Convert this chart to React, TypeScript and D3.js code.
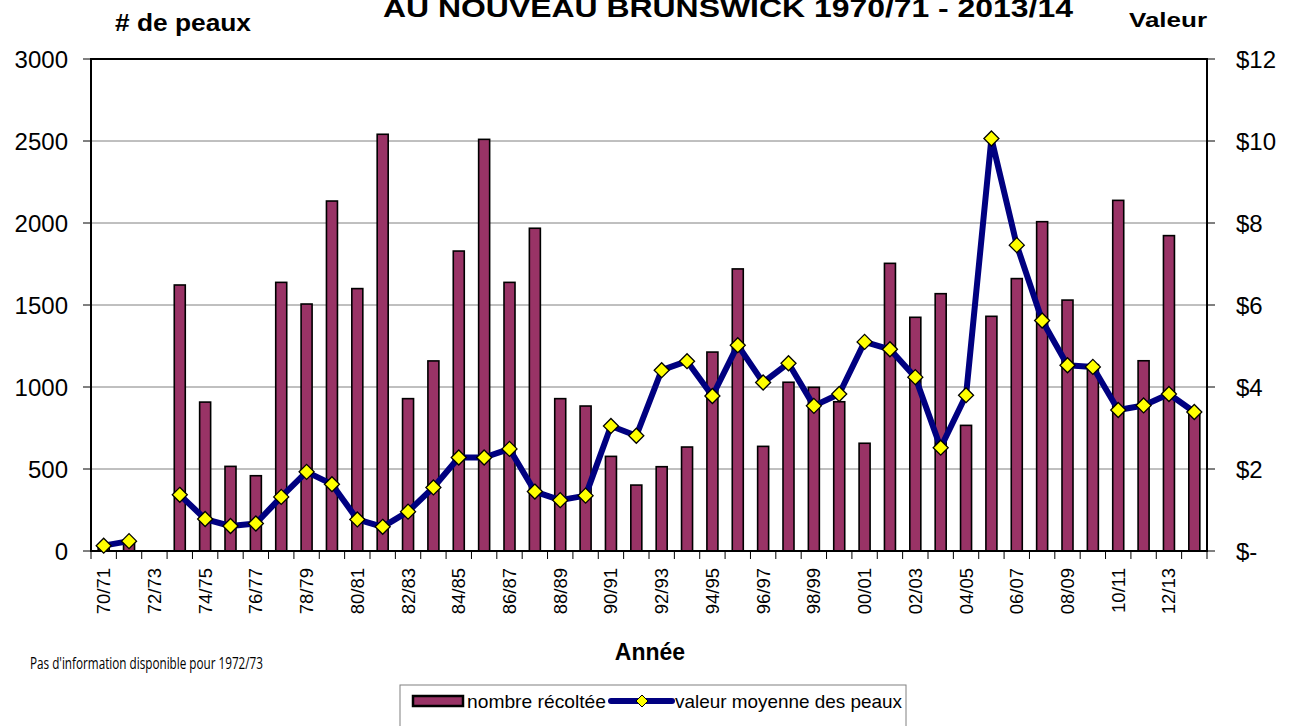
import * as d3 from 'd3';

// saisons 70/71 .. 13/14
const saisons = [
  '70/71', '71/72', '72/73', '73/74', '74/75', '75/76', '76/77', '77/78', '78/79', '79/80',
  '80/81', '81/82', '82/83', '83/84', '84/85', '85/86', '86/87', '87/88', '88/89', '89/90',
  '90/91', '91/92', '92/93', '93/94', '94/95', '95/96', '96/97', '97/98', '98/99', '99/00',
  '00/01', '01/02', '02/03', '03/04', '04/05', '05/06', '06/07', '07/08', '08/09', '09/10',
  '10/11', '11/12', '12/13', '13/14',
];

// nombre de peaux récoltées (72/73 : pas d'information)
const nombre: (number | null)[] = [
  20, 50, null, 1622, 908, 516, 459, 1638, 1506, 2134,
  1600, 2541, 929, 1159, 1829, 2510, 1638, 1968, 929, 884,
  577, 402, 514, 634, 1213, 1720, 638, 1029, 998, 910,
  657, 1754, 1425, 1569, 766, 1431, 1661, 2008, 1530, 1136,
  2138, 1160, 1923, 845,
];

// valeur moyenne des peaux ($)
const valeur: (number | null)[] = [
  0.13, 0.24, null, 1.37, 0.78, 0.61, 0.67, 1.32, 1.93, 1.63,
  0.77, 0.59, 0.96, 1.55, 2.28, 2.28, 2.49, 1.45, 1.24, 1.35,
  3.05, 2.81, 4.41, 4.63, 3.78, 5.02, 4.11, 4.58, 3.54, 3.83,
  5.1, 4.92, 4.24, 2.52, 3.8, 10.06, 7.46, 5.62, 4.53, 4.49,
  3.44, 3.55, 3.83, 3.39,
];

const leftTicks = [0, 500, 1000, 1500, 2000, 2500, 3000];
const rightTicks = [0, 2, 4, 6, 8, 10, 12];

const W = 1296;
const H = 726;
const plot = { left: 91, right: 1207, top: 59, bottom: 551 };
const font = 'Arial, "Liberation Sans", sans-serif';

const App = () => {
  const x = d3
    .scaleBand<string>()
    .domain(saisons)
    .range([plot.left, plot.right])
    .padding(0);
  const yL = d3.scaleLinear().domain([0, 3000]).range([plot.bottom, plot.top]);
  const yR = d3.scaleLinear().domain([0, 12]).range([plot.bottom, plot.top]);
  const bw = x.bandwidth();
  const cx = (s: string) => (x(s) as number) + bw / 2;

  const line = d3
    .line<number | null>()
    .defined((d) => d !== null)
    .x((_, i) => cx(saisons[i]))
    .y((d) => yR(d as number));

  const diamond = (px: number, py: number, r: number) =>
    `M${px},${py - r}L${px + r},${py}L${px},${py + r}L${px - r},${py}Z`;

  return (
    <svg
      width={W}
      height={H}
      style={{ position: 'absolute', left: 0, top: 0, background: '#fff' }}
    >
      {/* titres */}
      <text
        x={728}
        y={17}
        textAnchor="middle"
        fontFamily={font}
        fontWeight="bold"
        fontSize={26}
        textLength={690}
        lengthAdjust="spacingAndGlyphs"
      >
        AU NOUVEAU BRUNSWICK 1970/71 - 2013/14
      </text>
      <text
        x={115}
        y={31}
        fontFamily={font}
        fontWeight="bold"
        fontSize={24}
        textLength={136}
        lengthAdjust="spacingAndGlyphs"
      >
        # de peaux
      </text>
      <text
        x={1129}
        y={27}
        fontFamily={font}
        fontWeight="bold"
        fontSize={21}
        textLength={78}
        lengthAdjust="spacingAndGlyphs"
      >
        Valeur
      </text>

      {/* grille */}
      {leftTicks.map((t) => (
        <g key={t}>
          <line
            x1={plot.left}
            x2={plot.right}
            y1={yL(t)}
            y2={yL(t)}
            stroke="#808080"
            strokeWidth={1}
          />
          <line x1={plot.left - 8} x2={plot.left} y1={yL(t)} y2={yL(t)} stroke="#000" />
          <line x1={plot.right} x2={plot.right + 8} y1={yL(t)} y2={yL(t)} stroke="#000" />
          <text
            x={68}
            y={yL(t)}
            dy="0.36em"
            textAnchor="end"
            fontFamily={font}
            fontSize={24}
          >
            {t}
          </text>
        </g>
      ))}
      {rightTicks.map((t) => (
        <text
          key={t}
          x={1236}
          y={yR(t)}
          dy="0.36em"
          fontFamily={font}
          fontSize={24}
        >
          {t === 0 ? '$-' : `$${t}`}
        </text>
      ))}

      {/* graduations x */}
      {saisons.concat(['']).map((s, i) => {
        const px = plot.left + i * bw;
        return (
          <line
            key={i}
            x1={px}
            x2={px}
            y1={plot.bottom}
            y2={plot.bottom + 8}
            stroke="#000"
          />
        );
      })}
      {saisons.map((s, i) =>
        i % 2 === 0 ? (
          <text
            key={s}
            transform={`translate(${cx(s) + 6.5},568) rotate(-90)`}
            textAnchor="end"
            fontFamily={font}
            fontSize={18.5}
          >
            {s}
          </text>
        ) : null,
      )}

      {/* barres */}
      {nombre.map((v, i) =>
        v === null ? null : (
          <rect
            key={i}
            x={cx(saisons[i]) - 5.5}
            y={yL(v)}
            width={11}
            height={plot.bottom - yL(v)}
            fill="#993366"
            stroke="#000"
            strokeWidth={1.6}
          />
        ),
      )}

      {/* cadre */}
      <rect
        x={plot.left}
        y={plot.top}
        width={plot.right - plot.left}
        height={plot.bottom - plot.top}
        fill="none"
        stroke="#000"
        strokeWidth={2}
      />

      {/* ligne valeur */}
      <path
        d={line(valeur) as string}
        fill="none"
        stroke="#000080"
        strokeWidth={6}
        strokeLinejoin="round"
      />
      {valeur.map((v, i) =>
        v === null ? null : (
          <path
            key={i}
            d={diamond(cx(saisons[i]), yR(v), 7.5)}
            fill="#ffff00"
            stroke="#000"
            strokeWidth={1.3}
          />
        ),
      )}

      {/* axe x titre et note */}
      <text
        x={650}
        y={660}
        textAnchor="middle"
        fontFamily={font}
        fontWeight="bold"
        fontSize={23}
      >
        Année
      </text>
      <text
        x={30}
        y={669}
        fontFamily='"Open Sans", sans-serif'
        fontSize={16.5}
        textLength={233}
        lengthAdjust="spacingAndGlyphs"
      >
        Pas d'information disponible pour 1972/73
      </text>

      {/* légende */}
      <rect x={400} y={685} width={506} height={60} fill="#fff" stroke="#808080" strokeWidth={1} />
      <rect x={413} y={696} width={50} height={10} fill="#993366" stroke="#000" strokeWidth={2.5} />
      <text x={467} y={708} fontFamily={font} fontSize={19} textLength={139} lengthAdjust="spacingAndGlyphs">
        nombre récoltée
      </text>
      <line x1={611} x2={672} y1={701} y2={701} stroke="#000080" strokeWidth={6} strokeLinecap="round" />
      <path d={diamond(642, 701, 6)} fill="#ffff00" stroke="#000" strokeWidth={1} />
      <text x={675} y={708} fontFamily={font} fontSize={19} textLength={227} lengthAdjust="spacingAndGlyphs">
        valeur moyenne des peaux
      </text>
    </svg>
  );
};

export default App;
